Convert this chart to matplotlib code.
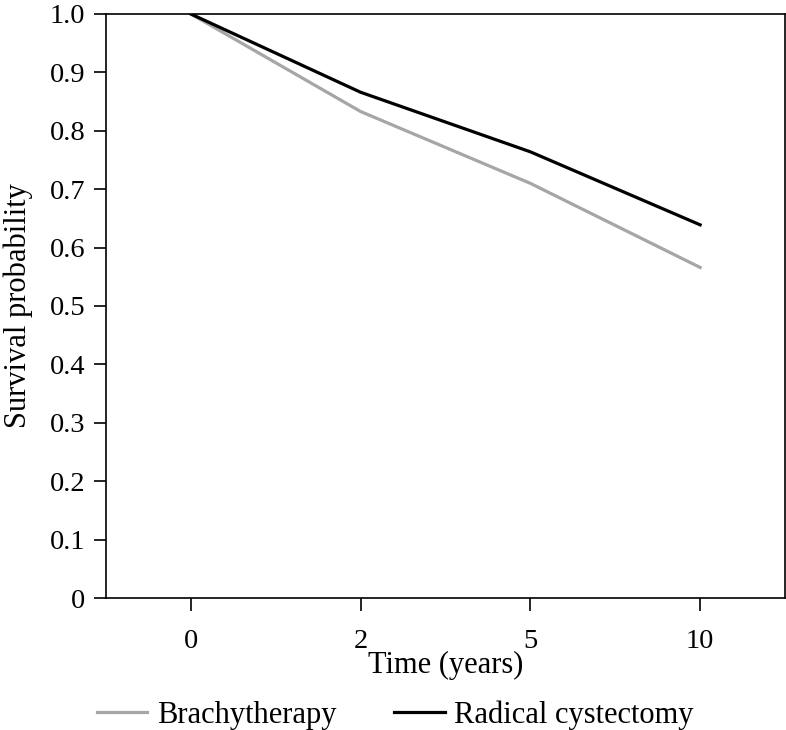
import matplotlib
matplotlib.use("Agg")
import matplotlib.pyplot as plt

time_labels = ["0", "2", "5", "10"]
brachy = [1.0, 0.833, 0.710, 0.566]
cystectomy = [1.0, 0.866, 0.764, 0.639]
yticks = [0, 0.1, 0.2, 0.3, 0.4, 0.5, 0.6, 0.7, 0.8, 0.9, 1.0]
ytick_labels = ["0", "0.1", "0.2", "0.3", "0.4", "0.5", "0.6", "0.7", "0.8", "0.9", "1.0"]

plt.rcParams['font.family'] = ['Liberation Serif', 'DejaVu Serif']
fs_tick = 20.5
fs = 22

fig = plt.figure(figsize=(7.86, 7.30), dpi=100)
ax = fig.add_axes([106/786, 1 - 598/730, (785 - 106)/786, (598 - 14)/730])

x = list(range(len(time_labels)))
ax.plot(x, brachy, color='#a6a6a6', lw=2.3, label='Brachytherapy', solid_joinstyle='round')
ax.plot(x, cystectomy, color='black', lw=2.3, label='Radical cystectomy', solid_joinstyle='round')

ax.set_xlim(-0.5, 3.5)
ax.set_ylim(0, 1.0)
ax.set_xticks(x)
ax.set_xticklabels(time_labels, fontsize=fs_tick)
ax.set_yticks(yticks)
ax.set_yticklabels(ytick_labels, fontsize=fs_tick)
ax.tick_params(direction='out', length=9, width=1.2)
ax.tick_params(axis='x', pad=13)
ax.tick_params(axis='y', pad=6)
for s in ax.spines.values():
    s.set_linewidth(1.2)

ax.set_xlabel('Time (years)', fontsize=fs, labelpad=-2)
ax.set_ylabel('Survival probability', fontsize=fs, labelpad=12)

leg = fig.legend(loc='center left', bbox_to_anchor=(97/786, 1 - 715/730), ncol=2, frameon=False,
                 fontsize=fs, handlelength=1.65, handletextpad=0.3, columnspacing=1.9,
                 borderpad=0, borderaxespad=0)

fig.savefig('out.png', dpi=100)
